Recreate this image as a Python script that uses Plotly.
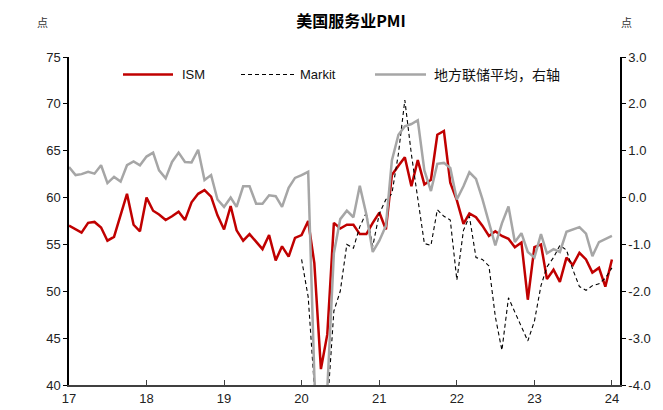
import pandas as pd
import plotly.graph_objects as go

months = pd.date_range("2017-01-01", "2024-01-01", freq="MS").strftime("%Y-%m-%d").tolist()

ism = [
    57.0, 56.6, 56.25, 57.3, 57.4, 56.8, 55.4, 55.8, 58.1, 60.4, 57.1, 56.4,
    60.0, 58.6, 58.2, 57.6, 58.0, 58.5, 57.6, 59.5, 60.4, 60.8, 60.1, 58.1,
    56.6, 59.1, 56.5, 55.4, 56.1, 55.3, 54.5, 56.0, 53.3, 54.8, 53.7, 55.7,
    56.0, 57.5, 53.0, 41.7, 45.4, 57.3, 56.7, 57.1, 57.1, 56.1, 56.1, 57.3,
    58.4, 56.6, 62.4, 63.4, 64.3, 61.2, 64.0, 61.4, 61.9, 66.7, 67.1, 61.6,
    59.7, 57.2, 58.3, 57.9, 57.0, 55.9, 56.4, 55.9, 55.6, 54.7, 55.2, 49.1,
    54.7, 55.0, 51.3, 52.3, 51.0, 53.6, 52.8, 54.1, 53.4, 52.0, 52.5, 50.5,
    53.4,
]

markit = [None] * 36 + [
    53.4, 49.4, 39.8, 26.7, 37.5, 47.9, 50.0, 55.0, 54.6, 56.9, 58.4, 54.8,
    58.3, 59.8, 60.4, 64.7, 70.4, 64.6, 59.9, 55.1, 54.9, 58.7, 58.0, 57.6,
    51.2, 56.5, 58.0, 53.6, 53.4, 52.7, 47.3, 43.7, 49.3, 47.8, 46.2, 44.7,
    46.8, 50.6, 52.6, 53.6, 54.9, 54.4, 52.3, 50.5, 50.1, 50.6, 50.8, 51.4,
    52.5,
]

fed_avg = [
    0.65, 0.48, 0.50, 0.55, 0.51, 0.69, 0.31, 0.44, 0.34, 0.69, 0.77, 0.69,
    0.875, 0.96, 0.58, 0.41, 0.76, 0.96, 0.76, 0.75, 1.02, 0.375, 0.48, -0.04,
    -0.20, 0.00, -0.20, 0.24, 0.24, -0.13, -0.13, 0.05, 0.03, -0.20, 0.21, 0.42,
    0.48, 0.55, -3.8, -7.0, -4.1, -1.19, -0.46, -0.28, -0.42, 0.25, -0.36, -1.16,
    -0.92, -0.60, 0.79, 1.34, 1.52, 1.57, 1.65, 0.58, 0.14, 0.72, 0.74, 0.63,
    -0.04, 0.24, 0.54, 0.40, -0.03, -0.55, -1.02, -0.55, -0.19, -0.95, -0.76, -1.16,
    -1.28, -0.78, -1.19, -1.10, -1.16, -0.73, -0.68, -0.63, -0.77, -1.25, -0.95, -0.89,
    -0.82,
]

series_names = ["ISM", "Markit", "地方联储平均，右轴"]
series_colors = ["#C00000", "#000000", "#A6A6A6"]
series_widths = [2.5, 1.1, 2.5]
series_dash = ["solid", "4px,3px", "solid"]

year_ticks = ["2017-01-01", "2018-01-01", "2019-01-01", "2020-01-01",
              "2021-01-01", "2022-01-01", "2023-01-01", "2024-01-01"]
year_labels = ["17", "18", "19", "20", "21", "22", "23", "24"]
left_ticks = [40, 45, 50, 55, 60, 65, 70, 75]
right_ticks = [-4, -3, -2, -1, 0, 1, 2, 3]
right_labels = ["-4.0", "-3.0", "-2.0", "-1.0", "0.0", "1.0", "2.0", "3.0"]

font_lat = "Liberation Sans, Arial, Noto Sans CJK SC"

# plot area in pixels (for legend placement)
L, R, T, B = 61, 612, 49, 385
def px(xp):
    return (xp - L) / (R - L)
def py(yp):
    return (B - yp) / (B - T)

fig = go.Figure()
values = [ism, markit, fed_avg]
axes = ["y", "y", "y2"]
for name, vals, col, w, d, ax in zip(series_names, values, series_colors,
                                     series_widths, series_dash, axes):
    fig.add_trace(go.Scatter(x=months, y=vals, name=name, mode="lines", yaxis=ax,
                             line=dict(color=col, width=w, dash=d)))

# manual legend
leg_y = 67
leg_samples = [(115, 165), (233, 287), (367, 418)]
leg_text_x = [172, 290, 424]
leg_font_sizes = [13, 13, 14]
shapes = []
annotations = []
for (x0, x1), tx, name, col, w, d, fs in zip(leg_samples, leg_text_x, series_names,
                                             series_colors, series_widths, series_dash,
                                             leg_font_sizes):
    shapes.append(dict(type="line", xref="paper", yref="paper",
                       x0=px(x0), x1=px(x1), y0=py(leg_y), y1=py(leg_y),
                       line=dict(color=col, width=w, dash=d)))
    annotations.append(dict(text=name, xref="paper", yref="paper", x=px(tx), y=py(leg_y),
                            xanchor="left", yanchor="middle", showarrow=False,
                            font=dict(family=font_lat, size=fs, color="#111")))

annotations += [
    dict(text="点", xref="paper", yref="paper", x=px(34), y=py(13),
         showarrow=False, xanchor="center", yanchor="middle",
         font=dict(family="Noto Sans CJK SC", size=11, color="#333")),
    dict(text="点", xref="paper", yref="paper", x=px(618), y=py(13),
         showarrow=False, xanchor="center", yanchor="middle",
         font=dict(family="Noto Sans CJK SC", size=11, color="#333")),
]

fig.update_layout(
    width=663, height=410,
    margin=dict(l=L, r=663 - R, t=T, b=410 - B),
    paper_bgcolor="white", plot_bgcolor="white",
    font=dict(family=font_lat, size=13, color="#222222"),
    title=dict(text="<b>美国服务业PMI</b>", x=343 / 663, xanchor="center",
               y=1 - 13 / 410, yanchor="middle", yref="container",
               font=dict(family="Noto Sans CJK SC", size=16, color="#000000")),
    showlegend=False,
    shapes=shapes,
    annotations=annotations,
    xaxis=dict(type="date", range=["2017-01-01", "2024-02-08"],
               tickvals=year_ticks, ticktext=year_labels,
               ticks="inside", ticklen=5, tickwidth=1, tickcolor="#404040",
               showline=True, linecolor="#404040", linewidth=2,
               showgrid=False, zeroline=False, tickfont=dict(size=13)),
    yaxis=dict(range=[40, 75], tickvals=left_ticks,
               ticks="outside", ticklen=4, tickcolor="#000", tickwidth=1,
               showline=True, linecolor="#000", linewidth=1.5,
               showgrid=False, zeroline=False, tickfont=dict(size=13)),
    yaxis2=dict(range=[-4, 3], tickvals=right_ticks, ticktext=right_labels,
                overlaying="y", side="right",
                ticks="outside", ticklen=4, tickcolor="#000", tickwidth=1,
                showline=True, linecolor="#000", linewidth=1.5,
                showgrid=False, zeroline=False, tickfont=dict(size=13)),
)

fig.write_html("out.html")
